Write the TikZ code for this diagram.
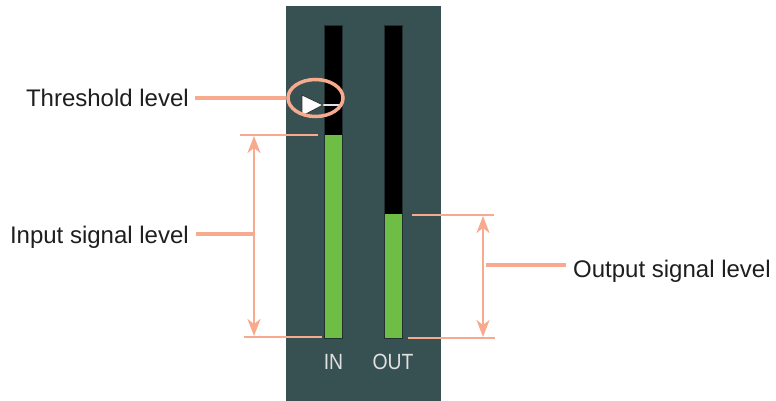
\documentclass[tikz,border=0pt]{standalone}
\usepackage{fontspec}
\setmainfont{Liberation Sans}
\usetikzlibrary{arrows.meta,shapes.geometric}
\definecolor{panel}{RGB}{55,80,81}
\definecolor{salmon}{RGB}{248,170,142}
\definecolor{meterg}{RGB}{110,190,70}
\definecolor{txt}{RGB}{30,30,30}
\definecolor{lbl}{RGB}{225,225,225}
\tikzset{
  lab/.style={font=\fontsize{24}{28}\selectfont, text=txt, inner sep=0pt},
  leader/.style={draw=salmon, line width=4.5pt},
  tick/.style={draw=salmon, line width=2.5pt},
  dim/.style={draw=salmon, line width=2.5pt, {Stealth[length=17pt,width=13pt,inset=5pt]}-{Stealth[length=17pt,width=13pt,inset=5pt]}},
  meterlbl/.style={font=\fontsize{22}{26}\selectfont, text=lbl, inner sep=0pt, xscale=0.88},
}
\begin{document}
\begin{tikzpicture}[x=1pt,y=-1pt]
\useasboundingbox (0,0) rectangle (776,401);
% panel
\fill[panel] (286,6) rectangle (441,401);
% meters
\fill[black] (324,25) rectangle (342,338);
\fill[meterg] (324,135) rectangle (342,338);
\draw[panel!60!black, line width=0.6pt] (324,25) rectangle (342,338);
\fill[black] (384,25) rectangle (402,338);
\fill[meterg] (384,214) rectangle (402,338);
\draw[panel!60!black, line width=0.6pt] (384,25) rectangle (402,338);
% meter labels
\node[meterlbl, anchor=base] (inl) at (333.5,369) {IN};
\node[meterlbl, anchor=base] (outl) at (393,369) {OUT};
% threshold marker
\draw[lbl, line width=1.5pt] (322,105) -- (342,105);
\draw[fill=white, draw=black!80, line width=0.8pt] (302,95) -- (323,105) -- (302,116) -- cycle;
\node[draw=salmon, line width=3.5pt, ellipse, minimum width=55pt, minimum height=37pt, inner sep=0pt] (circ) at (315.5,98) {};
% labels
\node[lab, anchor=base east] (thr) at (189,107) {Threshold level};
\node[lab, anchor=base east] (inp) at (189,243) {Input signal level};
\node[lab, anchor=base west] (outp) at (573,277) {Output signal level};
% leaders
\coordinate (thrA) at (195,98);
\draw[leader] (thrA) -- (circ.west);
% input dimension
\coordinate (inT1) at (240,135);
\coordinate (inT2) at (318,135);
\coordinate (inB1) at (244,337);
\coordinate (inB2) at (322,337);
\draw[tick] (inT1) -- (inT2);
\draw[tick] (inB1) -- (inB2);
\coordinate (inA1) at (254,136);
\coordinate (inA2) at (254,336);
\draw[dim] (inA1) -- (inA2);
\coordinate (inL1) at (196,234);
\coordinate (inL2) at (253,234);
\draw[leader] (inL1) -- (inL2);
% output dimension
\coordinate (oT1) at (412,215);
\coordinate (oT2) at (494,215);
\coordinate (oB1) at (408,338);
\coordinate (oB2) at (495,338);
\draw[tick] (oT1) -- (oT2);
\draw[tick] (oB1) -- (oB2);
\coordinate (oA1) at (483,216);
\coordinate (oA2) at (483,337);
\draw[dim] (oA1) -- (oA2);
\coordinate (oL1) at (486,265);
\coordinate (oL2) at (566,265);
\draw[leader] (oL1) -- (oL2);
\end{tikzpicture}
\end{document}
